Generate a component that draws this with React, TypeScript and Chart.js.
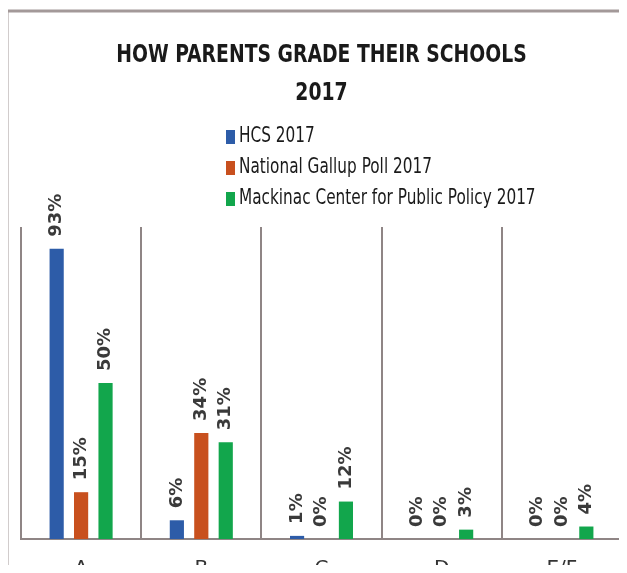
import React, { useEffect, useRef } from "react";
import { Chart, registerables } from "chart.js";

Chart.register(...registerables);

const categories = ["A", "B", "C", "D", "E/F"];
const seriesNames = [
  "HCS 2017",
  "National Gallup Poll 2017",
  "Mackinac Center for Public Policy 2017",
];
const hcs2017 = [93, 6, 1, 0, 0];
const gallup2017 = [15, 34, 0, 0, 0];
const mackinac2017 = [50, 31, 12, 3, 4];
const titleLines = ["HOW PARENTS GRADE THEIR SCHOOLS", "2017"];
const seriesColors = ["#2d5ca8", "#c8501e", "#12a64c"];

const NARROW = "'Liberation Sans Narrow', 'DejaVu Sans Condensed', 'Liberation Sans', sans-serif";

const framePlugin = {
  id: "frame",
  beforeDraw(chart: any) {
    const { ctx, width, height } = chart;
    ctx.save();
    ctx.fillStyle = "#ffffff";
    ctx.fillRect(0, 0, width, height);
    ctx.strokeStyle = "#a39999";
    ctx.lineWidth = 3;
    ctx.beginPath();
    ctx.moveTo(7, height);
    ctx.lineTo(7, 11);
    ctx.lineTo(width, 11);
    ctx.stroke();
    ctx.restore();
  },
};

const titleLegendPlugin = {
  id: "titleLegend",
  afterDraw(chart: any) {
    const { ctx, chartArea } = chart;
    const cx = (chartArea.left + chartArea.right) / 2;
    ctx.save();
    ctx.fillStyle = "#1a1a1a";
    ctx.textAlign = "center";
    ctx.textBaseline = "middle";
    ctx.font = `bold 24px ${NARROW}`;
    titleLines.forEach((line, i) => {
      ctx.save();
      ctx.translate(cx, 56 + i * 38);
      ctx.scale(0.87, 1);
      ctx.fillText(line, 0, 0);
      ctx.restore();
    });
    ctx.textAlign = "left";
    ctx.font = `21px ${NARROW}`;
    chart.data.datasets.forEach((ds: any, i: number) => {
      const y = 137 + i * 31;
      ctx.fillStyle = ds.backgroundColor;
      ctx.fillRect(226, y - 7, 9, 14);
      ctx.fillStyle = "#1a1a1a";
      ctx.save();
      ctx.translate(239, y);
      ctx.scale(0.81, 1);
      ctx.fillText(ds.label, 0, 0);
      ctx.restore();
    });
    ctx.restore();
  },
};

const dataLabelPlugin = {
  id: "dataLabels",
  afterDatasetsDraw(chart: any) {
    const { ctx } = chart;
    ctx.save();
    ctx.fillStyle = "#3a3a3a";
    ctx.font = "bold 18px 'DejaVu Sans', sans-serif";
    ctx.textAlign = "left";
    ctx.textBaseline = "middle";
    chart.data.datasets.forEach((ds: any, di: number) => {
      const meta = chart.getDatasetMeta(di);
      meta.data.forEach((bar: any, i: number) => {
        const v = ds.data[i];
        ctx.save();
        ctx.translate(bar.x, bar.y - 12);
        ctx.rotate(-Math.PI / 2);
        ctx.fillText(`${v}%`, 0, 0);
        ctx.restore();
      });
    });
    ctx.restore();
  },
};

export default function App() {
  const canvasRef = useRef<HTMLCanvasElement | null>(null);

  useEffect(() => {
    if (!canvasRef.current) return;
    const seriesData = [hcs2017, gallup2017, mackinac2017];
    const chart = new Chart(canvasRef.current, {
      type: "bar",
      data: {
        labels: categories,
        datasets: seriesNames.map((name, i) => ({
          label: name,
          data: seriesData[i],
          backgroundColor: seriesColors[i],
          borderWidth: 0,
          categoryPercentage: 0.61,
          barPercentage: 0.58,
        })),
      },
      options: {
        responsive: false,
        devicePixelRatio: 1,
        animation: false,
        layout: { padding: { top: 227, left: 21, right: 5, bottom: 14 } },
        plugins: {
          legend: { display: false },
          title: { display: false },
          tooltip: { enabled: false },
        },
        scales: {
          x: {
            grid: {
              display: true,
              offset: true,
              color: "#8f8585",
              lineWidth: 2,
              drawTicks: false,
            },
            border: { display: true, color: "#8f8585", width: 2 },
            ticks: {
              padding: 18,
              color: "#333333",
              font: { size: 20, family: "'DejaVu Sans', sans-serif" },
            },
          },
          y: {
            display: false,
            min: 0,
            max: 100,
          },
        },
      },
      plugins: [framePlugin, dataLabelPlugin, titleLegendPlugin],
    });
    return () => chart.destroy();
  }, []);

  return (
    <div
      style={{
        margin: -8,
        width: 627,
        height: 573,
        overflow: "hidden",
        background: "#ffffff",
      }}
    >
      <canvas ref={canvasRef} width={627} height={613} style={{ display: "block" }} />
    </div>
  );
}
